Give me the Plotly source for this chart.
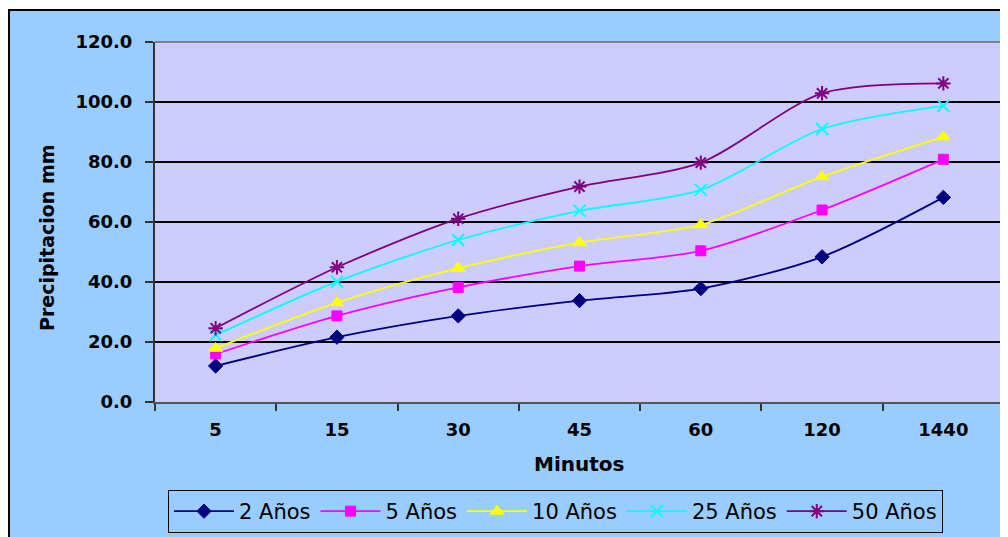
import plotly.graph_objects as go

minutos = ["5", "15", "30", "45", "60", "120", "1440"]
anios_2 = [12.0, 21.6, 28.7, 33.8, 37.8, 48.4, 68.2]
anios_5 = [16.0, 28.7, 38.2, 45.3, 50.4, 64.0, 80.9]
anios_10 = [17.9, 33.1, 44.6, 53.1, 59.1, 75.1, 88.4]
anios_25 = [22.3, 40.1, 54.0, 63.7, 70.7, 91.0, 98.7]
anios_50 = [24.6, 44.9, 61.1, 71.8, 79.8, 102.9, 106.2]
y_ticks = [0, 20, 40, 60, 80, 100, 120]

series = [
    ("2 Años", anios_2, "#000080", "diamond", 11, 1),
    ("5 Años", anios_5, "#FF00FF", "square", 10, 1),
    ("10 Años", anios_10, "#FFFF00", "triangle-up", 12, 1),
    ("25 Años", anios_25, "#00FFFF", "x-thin-open", 12, 2),
    ("50 Años", anios_50, "#800080", "asterisk-open", 12, 2),
]

FONT = "DejaVu Sans"
fig = go.Figure()
for name, vals, color, sym, size, lw in series:
    fig.add_trace(go.Scatter(
        x=minutos, y=vals, name=name, mode="lines+markers",
        line=dict(color=color, width=1.8, shape="spline", smoothing=0.8),
        marker=dict(symbol=sym, size=size, color=color,
                    line=dict(color=color, width=lw)),
    ))

# page offset (body margin of the html page)
OFF = 8
W, H = 1000, 529
# target plot area in page pixels
PL, PR, PT, PB = 155, 1004, 42, 402
L = PL - OFF
R = W - (PR - OFF)
T = PT - OFF
B = H - (PB - OFF)
pw, ph = W - L - R, H - T - B

def px(xp):  # page x -> paper
    return (xp - PL) / pw

def py(yp):  # page y -> paper
    return (PB - yp) / ph

fig.update_layout(
    width=W, height=H,
    margin=dict(l=L, r=R, t=T, b=B, autoexpand=False),
    paper_bgcolor="white",
    plot_bgcolor="#CCCCFF",
    font=dict(family=FONT, color="black"),
    showlegend=True,
    legend=dict(
        orientation="h", x=px(168), y=py(490), xanchor="left", yanchor="top",
        bgcolor="#99CCFF", bordercolor="black", borderwidth=1,
        font=dict(family=FONT, size=21, color="black"),
        itemwidth=60,
    ),
    xaxis=dict(
        type="category", range=[-0.5, len(minutos) - 0.5],
        tickson="boundaries", ticks="outside", ticklen=7,
        tickcolor="#333", tickwidth=2,
        showline=True, linecolor="#555", linewidth=2, mirror=False,
        showgrid=False,
        tickfont=dict(family=FONT, size=18, color="black", weight="bold"),
        ticklabelstandoff=10,
    ),
    yaxis=dict(
        range=[0, 120], tickvals=y_ticks, tickformat=".1f",
        ticks="outside", ticklen=8, tickcolor="#333", tickwidth=2,
        showline=True, linecolor="#333", linewidth=2,
        showgrid=True, gridcolor="black", gridwidth=2,
        zeroline=False,
        tickfont=dict(family=FONT, size=18, color="black", weight="bold"),
        ticklabelstandoff=9,
    ),
    shapes=[
        dict(type="rect", xref="paper", yref="paper",
             x0=px(9), x1=px(1014), y0=py(545), y1=py(10),
             fillcolor="#99CCFF", line=dict(color="black", width=2), layer="below"),
        dict(type="rect", xref="paper", yref="paper",
             x0=0, x1=1, y0=0, y1=1,
             fillcolor="#CCCCFF", line=dict(width=0), layer="below"),
        dict(type="line", xref="paper", yref="paper",
             x0=0, x1=1, y0=1, y1=1, line=dict(color="#808080", width=2)),
        dict(type="line", xref="paper", yref="paper",
             x0=1, x1=1, y0=0, y1=1, line=dict(color="#808080", width=2)),
    ],
    annotations=[
        dict(text="<b>Precipitacion mm</b>", xref="paper", yref="paper",
             x=px(47), y=py(238), textangle=-90, showarrow=False,
             xanchor="center", yanchor="middle",
             font=dict(family=FONT, size=19, color="black")),
        dict(text="<b>Minutos</b>", xref="paper", yref="paper",
             x=px(579), y=py(464), showarrow=False,
             xanchor="center", yanchor="middle",
             font=dict(family=FONT, size=20, color="black")),
    ],
)

fig.write_html("out.html")
